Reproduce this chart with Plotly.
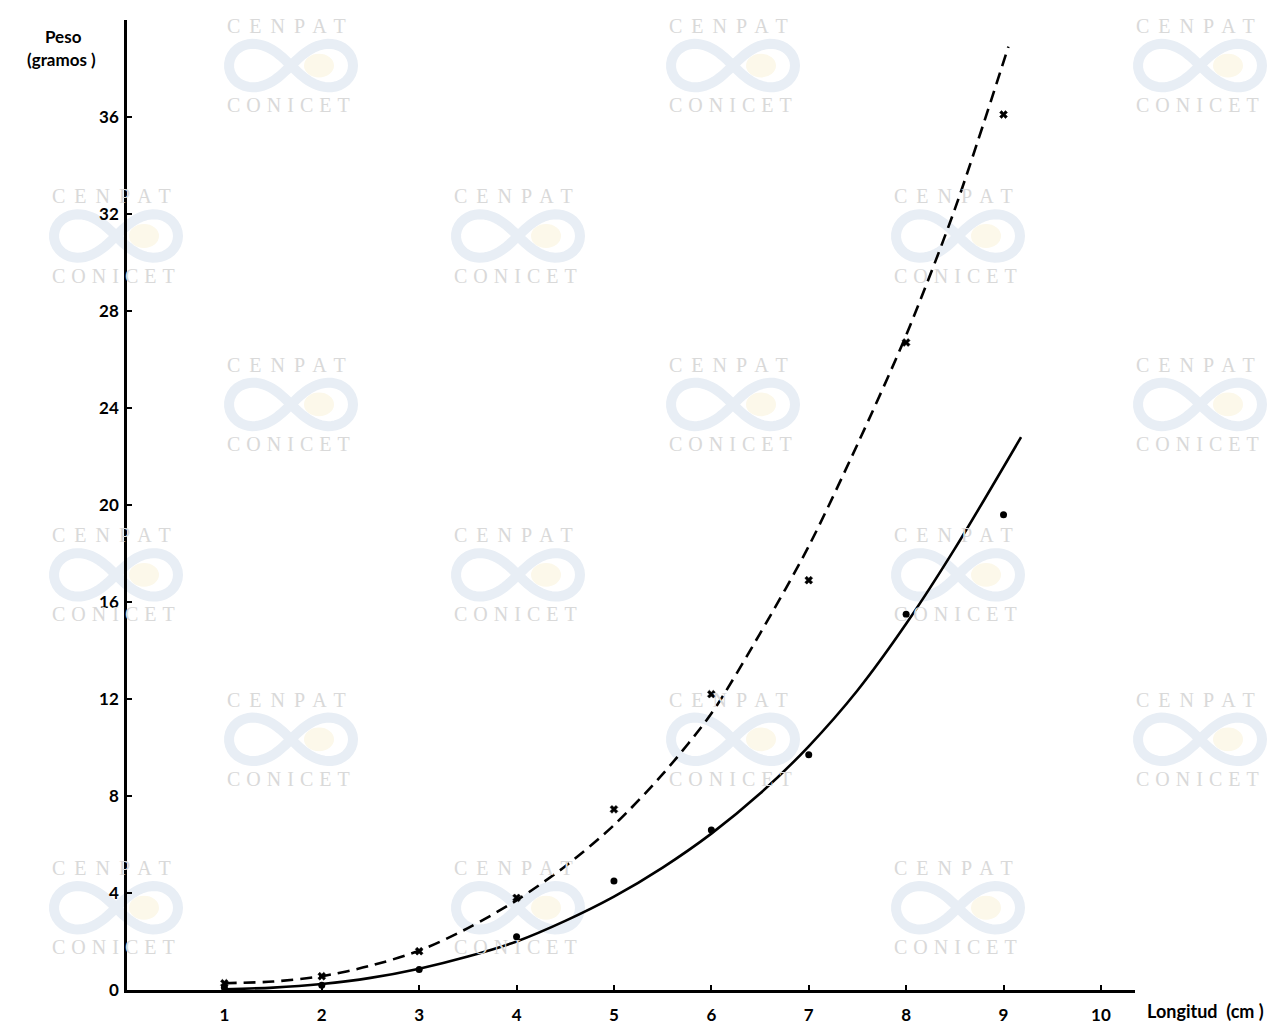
import numpy as np
import plotly.graph_objects as go

# ---------------- data ----------------
x_points = [1, 2, 3, 4, 5, 6, 7, 8, 9]
peso_cruz = [0.28, 0.57, 1.6, 3.8, 7.45, 12.2, 16.9, 26.7, 36.1]      # crosses (dashed curve)
peso_punto = [0.1, 0.2, 0.85, 2.2, 4.5, 6.6, 9.7, 15.5, 19.6]        # dots (solid curve)

curva_x_dash = [1, 1.5, 2, 2.5, 3, 3.5, 4, 4.5, 5, 5.5, 6, 6.5, 7, 7.5, 8, 8.5, 9.05]
curva_y_dash = [0.28, 0.35, 0.57, 1.0, 1.62, 2.55, 3.7, 5.1, 6.8, 8.9, 11.4, 14.7, 18.3, 22.5, 27.0, 32.2, 38.9]

curva_x_solid = [1, 1.5, 2, 2.5, 3, 3.5, 4, 4.5, 5, 5.5, 6, 6.5, 7, 7.5, 8, 8.5, 9.18]
curva_y_solid = [0.03, 0.1, 0.25, 0.5, 0.88, 1.38, 2.0, 2.85, 3.85, 5.05, 6.45, 8.1, 10.05, 12.35, 15.1, 18.2, 22.8]

x_ticks = [1, 2, 3, 4, 5, 6, 7, 8, 9, 10]
y_ticks = [0, 4, 8, 12, 16, 20, 24, 28, 32, 36]

# ---------------- layout geometry (pixels) ----------------
W, H = 1285, 1029
L, R, T, B = 119, 1127, 12, 991   # plot area edges in pixels


def px2paper(px, py):
    return (px - L) / (R - L), (B - py) / (B - T)


fig = go.Figure()

fig.add_trace(go.Scatter(x=curva_x_dash, y=curva_y_dash, mode="lines",
                         line=dict(color="black", width=2.6, dash="12px,7px",
                                   shape="spline", smoothing=0.8),
                         showlegend=False, hoverinfo="skip"))
fig.add_trace(go.Scatter(x=curva_x_solid, y=curva_y_solid, mode="lines",
                         line=dict(color="black", width=2.6, shape="spline", smoothing=0.8),
                         showlegend=False, hoverinfo="skip"))
fig.add_trace(go.Scatter(x=x_points, y=peso_cruz, mode="markers",
                         marker=dict(symbol="x", size=7, color="black",
                                     line=dict(width=0.5, color="black")),
                         showlegend=False))
fig.add_trace(go.Scatter(x=x_points, y=peso_punto, mode="markers",
                         marker=dict(symbol="circle", size=7, color="black"),
                         showlegend=False))

# ---------------- watermark (scan decoration) ----------------
wm_rows = [(18, [283, 725, 1192]), (190, [108, 510, 950]), (360, [283, 725, 1192]),
           (532, [108, 510, 950]), (698, [283, 725, 1192]), (868, [108, 510, 950]),
           (1042, [283, 725, 1192])]
annotations = []
shapes = []
t = np.linspace(0, 2 * np.pi, 90)
for cy, cols in wm_rows:
    for cx in cols:
        for txt, dy, sp in (("CENPAT", 0, 9), ("CONICET", 80, 6)):
            px_, py_ = px2paper(cx, cy + dy)
            annotations.append(dict(
                x=px_, y=py_, xref="paper", yref="paper", showarrow=False,
                xanchor="center", yanchor="middle",
                text=f'<span style="letter-spacing:{sp}px">{txt}</span>',
                font=dict(family="Liberation Serif", size=20, color="#d9d9d9")))
        # infinity ribbon
        a = 62
        lx = cx + a * np.cos(t) / (1 + np.sin(t) ** 2)
        ly = cy + 40 - a * np.sin(t) * np.cos(t) / (1 + np.sin(t) ** 2)
        pts = [px2paper(u, v) for u, v in zip(lx, ly)]
        path = "M " + " L ".join(f"{u:.5f},{v:.5f}" for u, v in pts) + " Z"
        sx, sy = px2paper(cx + 28, cy + 40)
        rx = 15 / (R - L)
        ry = 12 / (B - T)
        shapes.append(dict(type="circle", xref="paper", yref="paper", layer="below",
                           x0=sx - rx, x1=sx + rx, y0=sy - ry, y1=sy + ry,
                           fillcolor="#fcf8ea", line=dict(width=0)))
        shapes.append(dict(type="path", xref="paper", yref="paper", layer="below",
                           path=path, line=dict(color="#e8eef5", width=10)))

# axis titles
for txt, cx, cy, size in (("Peso", 55, 29, 17), ("(gramos )", 53, 52, 17)):
    px_, py_ = px2paper(cx, cy)
    annotations.append(dict(x=px_, y=py_, xref="paper", yref="paper", showarrow=False,
                            xanchor="center", yanchor="middle", text=txt,
                            font=dict(family="Lato", size=size, color="black", weight="bold")))
px_, py_ = px2paper(1137, 1012)
annotations.append(dict(x=px_, y=py_, xref="paper", yref="paper", showarrow=False,
                        xanchor="left", yanchor="middle", text="Longitud  (cm )",
                        font=dict(family="Lato", size=18, color="black", weight="bold")))

tickfont = dict(family="Lato", size=17, color="black", weight="bold")
fig.update_layout(
    width=W, height=H,
    margin=dict(l=L, r=W - R, t=T, b=H - B, pad=0),
    paper_bgcolor="white", plot_bgcolor="rgba(0,0,0,0)",
    xaxis=dict(range=[0, 10.35], tickvals=x_ticks, ticktext=[str(v) for v in x_ticks],
               showline=True, linecolor="black", linewidth=2.5, ticks="inside",
               ticklen=5, tickwidth=2, tickcolor="black", showgrid=False, zeroline=False,
               tickfont=tickfont, ticklabelstandoff=8),
    yaxis=dict(range=[0, 40], tickvals=y_ticks, ticktext=[str(v) for v in y_ticks],
               showline=True, linecolor="black", linewidth=2.5, ticks="inside",
               ticklen=5, tickwidth=2, tickcolor="black", showgrid=False, zeroline=False,
               tickfont=tickfont, ticklabelstandoff=2),
    annotations=annotations, shapes=shapes, showlegend=False,
)

fig.write_html("out.html")
